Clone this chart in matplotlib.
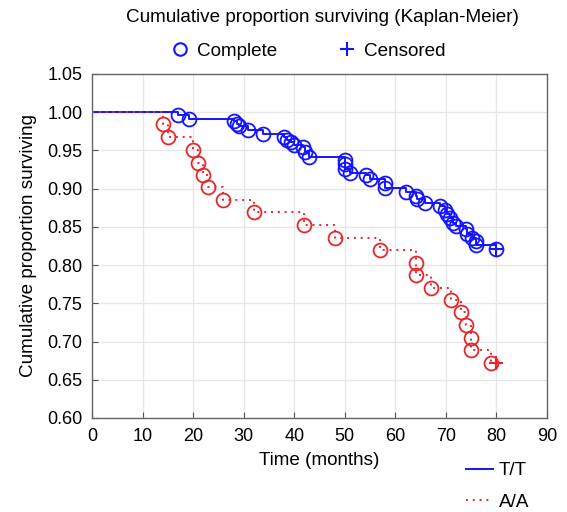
import matplotlib
matplotlib.use('Agg')
import matplotlib.pyplot as plt
from matplotlib.lines import Line2D

plt.rcParams['font.family'] = ['Liberation Sans', 'DejaVu Sans']

# T/T group, event times (months) and survival after each event
tt_time = [17.1, 19.1, 28.0, 28.6, 29.1, 30.9, 33.8, 37.9, 38.5, 39.4,
           40.0, 41.8, 42.2, 43.0, 50.1, 50.1, 50.1, 51.1, 54.1, 54.9,
           58.0, 58.0, 62.2, 64.0, 64.2, 65.9, 68.9, 69.9, 70.2, 70.9,
           71.4, 72.1, 73.9, 74.2, 75.2, 76.0, 76.0, 80.0]
tt_surv = [0.997, 0.991, 0.989, 0.985, 0.982, 0.977, 0.971, 0.968, 0.964, 0.961,
           0.957, 0.954, 0.948, 0.941, 0.937, 0.932, 0.926, 0.921, 0.918, 0.912,
           0.907, 0.901, 0.896, 0.891, 0.887, 0.881, 0.877, 0.872, 0.867, 0.861,
           0.855, 0.851, 0.847, 0.841, 0.836, 0.832, 0.826, 0.821]
tt_cens = ([80.0], [0.821])

# A/A group
aa_time = [14, 15, 20, 21, 22, 23, 26, 32, 42, 48,
           57, 64, 64, 67, 71, 73, 74, 75, 75, 79]
aa_surv = [0.984, 0.967, 0.951, 0.934, 0.918, 0.902, 0.885, 0.869, 0.852, 0.836,
           0.820, 0.803, 0.787, 0.770, 0.754, 0.738, 0.721, 0.705, 0.689, 0.672]
aa_cens = ([80.0], [0.672])

blue = '#1414ff'
red = '#e8262a'
fs = 13.6      # title, labels, legends
fs_tick = 13

fig = plt.figure(figsize=(5.67, 5.12), dpi=100)
ax = fig.add_axes([0.1623, 0.1836, 0.8024, 0.6719])

# step curves start at time 0, survival 1
ax.plot([0] + tt_time + tt_cens[0], [1.0] + tt_surv + tt_cens[1],
        drawstyle='steps-post', c=blue, lw=1.4)
ax.plot([0] + aa_time + aa_cens[0], [1.0] + aa_surv + aa_cens[1],
        drawstyle='steps-post', c=red, lw=1.4, ls=(0, (1, 2.5)))

# complete (event) markers
ax.plot(tt_time, tt_surv, lw=0, marker='o', ms=10, mfc='none', mec=blue, mew=1.3)
ax.plot(aa_time, aa_surv, lw=0, marker='o', ms=10, mfc='none', mec=red, mew=1.3)

# censored markers
ax.plot(*tt_cens, lw=0, marker='+', ms=10, mec=blue, mew=1.5)
ax.plot(*aa_cens, lw=0, marker='+', ms=10, mec=red, mew=1.5)

ax.set_xlim(0, 90)
ax.set_ylim(0.60, 1.05)
ax.set_xticks(range(0, 91, 10))
ax.set_yticks([0.60, 0.65, 0.70, 0.75, 0.80, 0.85, 0.90, 0.95, 1.00, 1.05])
ax.set_yticklabels(['%.2f' % v for v in ax.get_yticks()])
ax.tick_params(direction='in', length=4, labelsize=fs_tick, color='#555555')
ax.tick_params(axis='x', pad=7)
ax.tick_params(axis='y', pad=7)
ax.grid(True, color='#e6e6e6', lw=0.9)
ax.set_axisbelow(True)
for s in ax.spines.values():
    s.set_color('#666666')
    s.set_linewidth(1.0)

ax.set_xlabel('Time (months)', fontsize=fs, labelpad=5)
ax.set_ylabel('Cumulative proportion surviving', fontsize=fs, labelpad=7)

fig.text(0.568, 0.965, 'Cumulative proportion surviving (Kaplan-Meier)',
         ha='center', va='center', fontsize=fs)

# marker-type legend at the top
top_handles = [Line2D([], [], lw=0, marker='o', ms=9, mfc='none', mec=blue, mew=1.5),
               Line2D([], [], lw=0, marker='+', ms=10, mec=blue, mew=1.5)]
fig.legend(top_handles, ['Complete', 'Censored'], loc='center',
           bbox_to_anchor=(0.541, 0.900), ncol=2, frameon=False, fontsize=fs,
           handletextpad=0.3, columnspacing=3.1, handlelength=1.2)

# group legend at the lower right
grp_handles = [Line2D([], [], c=blue, lw=1.4),
               Line2D([], [], c=red, lw=1.4, ls=(0, (1, 2.5)))]
fig.legend(grp_handles, ['T/T', 'A/A'], loc='upper left',
           bbox_to_anchor=(0.792, 0.131), frameon=False, fontsize=fs,
           handlelength=1.4, handletextpad=0.35, labelspacing=0.75)

fig.savefig('out.png', dpi=100)
